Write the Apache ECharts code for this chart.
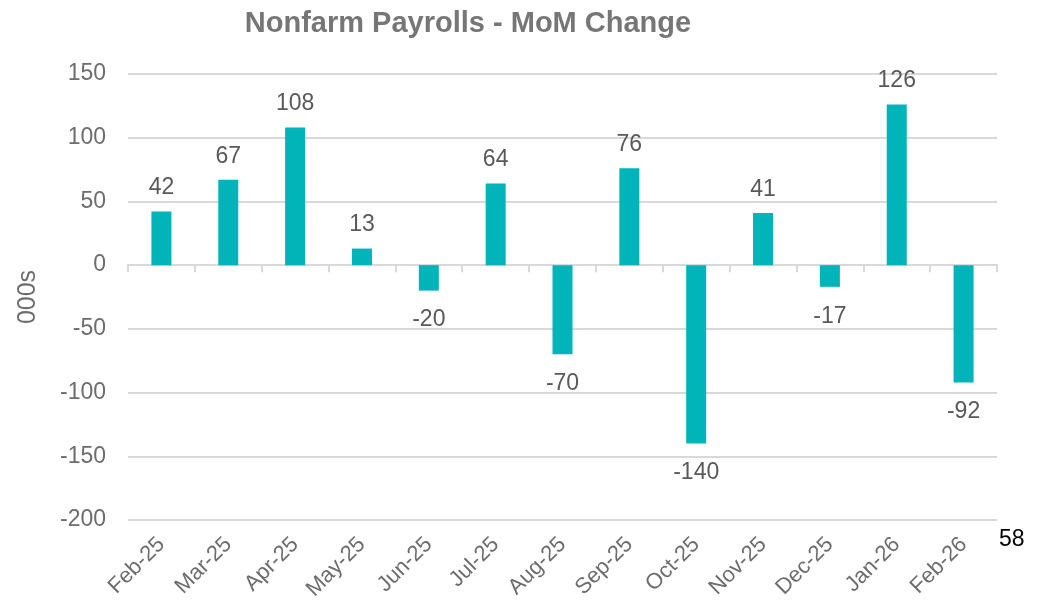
<!DOCTYPE html>
<html>
<head>
<meta charset="utf-8">
<script src="https://cdn.jsdelivr.net/npm/echarts@6/dist/echarts.min.js"></script>
<style>
  html, body { margin: 0; padding: 0; background: #fff; }
  #main { width: 1041px; height: 612px; }
</style>
</head>
<body>
<div id="main"></div>
<script>
var months = ['Feb-25', 'Mar-25', 'Apr-25', 'May-25', 'Jun-25', 'Jul-25', 'Aug-25',
              'Sep-25', 'Oct-25', 'Nov-25', 'Dec-25', 'Jan-26', 'Feb-26'];
var payrollChange = [42, 67, 108, 13, -20, 64, -70, 76, -140, 41, -17, 126, -92];
var pageNumber = '58';

var chart = echarts.init(document.getElementById('main'));
var font = '"Liberation Sans", Arial, sans-serif';

chart.setOption({
    backgroundColor: '#fff',
    animation: false,
    title: {
        text: 'Nonfarm Payrolls - MoM Change',
        left: 463,
        top: 4,
        textAlign: 'center',
        textStyle: { fontFamily: font, fontSize: 29, fontWeight: 'bold', color: '#767676' }
    },
    grid: { left: 128, right: 44, top: 74, bottom: 92, containLabel: false },
    xAxis: [
        {
            type: 'category',
            data: months,
            position: 'bottom',
            axisLine: { show: false, onZero: false },
            axisTick: { show: false },
            axisLabel: {
                rotate: 45, margin: 21, fontFamily: font, fontSize: 22, color: '#6d6d6d'
            }
        },
        {
            // zero line with its category ticks
            type: 'category',
            data: months,
            position: 'top',
            axisLine: { show: true, onZero: true, lineStyle: { color: '#d9d9d9', width: 2 } },
            axisTick: { show: true, inside: true, length: 7, lineStyle: { color: '#d9d9d9', width: 2 } },
            axisLabel: { show: false }
        }
    ],
    yAxis: {
        type: 'value',
        min: -200,
        max: 150,
        interval: 50,
        name: '000s',
        nameLocation: 'middle',
        nameGap: 87,
        nameTextStyle: { fontFamily: font, fontSize: 25, color: '#6d6d6d' },
        axisLine: { show: false },
        axisTick: { show: false },
        axisLabel: { margin: 22, fontFamily: font, fontSize: 23, color: '#6d6d6d' },
        splitLine: { lineStyle: { color: '#d9d9d9', width: 2 } }
    },
    series: [{
        type: 'bar',
        xAxisIndex: 0,
        barWidth: 20,
        itemStyle: { color: '#00B4B9' },
        data: payrollChange.map(function (v) {
            return {
                value: v,
                label: { position: v >= 0 ? 'top' : 'bottom', distance: v >= 0 ? 12 : 18 }
            };
        }),
        label: {
            show: true,
            fontFamily: font,
            fontSize: 23,
            color: '#595959'
        }
    }],
    graphic: [{
        type: 'text',
        left: 999,
        top: 528,
        style: { text: pageNumber, font: '23px ' + font, fill: '#000' }
    }]
});
</script>
</body>
</html>
